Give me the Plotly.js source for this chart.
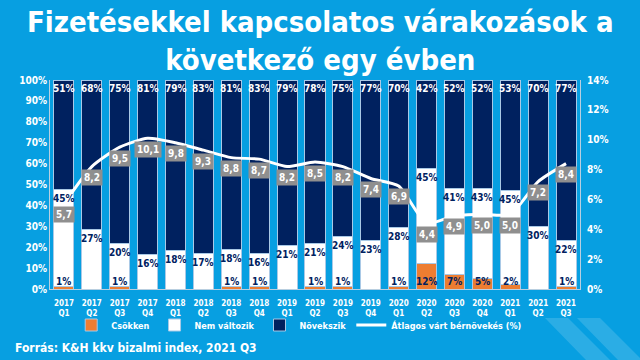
<!DOCTYPE html>
<html>
<head>
<meta charset="utf-8">
<script src="https://cdn.plot.ly/plotly-3.0.1.min.js"></script>
<style>
html,body{margin:0;padding:0;background:#079fe1;}
#chart{width:640px;height:360px;}
</style>
</head>
<body>
<div id="chart"></div>
<script>
const quarters = ["2017 Q1","2017 Q2","2017 Q3","2017 Q4","2018 Q1","2018 Q2","2018 Q3","2018 Q4","2019 Q1","2019 Q2","2019 Q3","2019 Q4","2020 Q1","2020 Q2","2020 Q3","2020 Q4","2021 Q1","2021 Q2","2021 Q3"];
const tickLabels = ["2017<br>Q1","2017<br>Q2","2017<br>Q3","2017<br>Q4","2018<br>Q1","2018<br>Q2","2018<br>Q3","2018<br>Q4","2019<br>Q1","2019<br>Q2","2019<br>Q3","2019<br>Q4","2020<br>Q1","2020<br>Q2","2020<br>Q3","2020<br>Q4","2021<br>Q1","2021<br>Q2","2021<br>Q3"];
const csokken = [1,0,1,0,0,0,1,1,0,1,1,0,1,12,7,5,2,0,1];
const nemValtozik = [45,27,20,16,18,17,18,16,21,21,24,23,28,45,41,43,45,30,22];
const novekszik = [51,68,75,81,79,83,81,83,79,78,75,77,70,42,52,52,53,70,77];
const berNovekedes = [5.7,8.2,9.5,10.1,9.8,9.3,8.8,8.7,8.2,8.5,8.2,7.4,6.9,4.4,4.9,5.0,5.0,7.2,8.4];

const NAVY = "#00215f", ORANGE = "#ed7d31", BG = "#079fe1";
const FONT = "DejaVu Sans Condensed";
const barLine = {color: "#a9c9e6", width: 1};

const traces = [
  {type:"bar", name:"Csökken", x:quarters, y:csokken, marker:{color:ORANGE, line:barLine}, hoverinfo:"none"},
  {type:"bar", name:"Nem változik", x:quarters, y:nemValtozik, marker:{color:"#ffffff", line:barLine}, hoverinfo:"none"},
  {type:"bar", name:"Növekszik", x:quarters, y:novekszik, marker:{color:NAVY, line:barLine}, hoverinfo:"none"},
  {type:"scatter", mode:"lines", name:"Átlagos várt bérnövekés (%)", x:quarters, y:berNovekedes, yaxis:"y2",
   line:{color:"#ffffff", width:3, shape:"spline", smoothing:0.6}, hoverinfo:"none"}
];

const L=50, R=60, T=80, B=71, W=640, H=360;
const pw=W-L-R, ph=H-T-B;
const px2x = p => (p-L)/pw;
const px2y = p => (H-B-p)/ph;

const annotations = [];
quarters.forEach((q,i)=>{
  const tot = csokken[i]+nemValtozik[i]+novekszik[i];
  const whiteTop = (csokken[i]+nemValtozik[i])/tot*100;
  annotations.push({x:q, y:100, xref:"x", yref:"y", text:novekszik[i]+"%", showarrow:false, yshift:-8,
    font:{family:FONT, size:10, color:"#ffffff", weight:"bold"}});
  annotations.push({x:q, y:whiteTop, xref:"x", yref:"y", text:nemValtozik[i]+"%", showarrow:false, yshift:-9,
    font:{family:FONT, size:10, color:NAVY, weight:"bold"}});
  if (csokken[i] > 0) {
    annotations.push({x:q, y:0, xref:"x", yref:"y", text:csokken[i]+"%", showarrow:false, yshift:8,
      font:{family:FONT, size:10, color:NAVY, weight:"bold"}});
  }
  annotations.push({x:q, y:berNovekedes[i], xref:"x", yref:"y2", text:berNovekedes[i].toFixed(1).replace(".",","),
    showarrow:false, yshift:-11, bgcolor:"#8f8f8f", borderpad:2,
    font:{family:FONT, size:10, color:"#ffffff", weight:"bold"}});
});
annotations.push({x:px2x(13), y:px2y(348), xref:"paper", yref:"paper", xanchor:"left", yanchor:"middle",
  text:"Forrás: K&H kkv bizalmi index, 2021 Q3", showarrow:false,
  font:{family:FONT, size:12, color:"#ffffff", weight:"bold"}});
annotations.push({x:0.5*(W)/pw - L/pw, y:px2y(3), xref:"paper", yref:"paper", xanchor:"center", yanchor:"top",
  text:"Fizetésekkel kapcsolatos várakozások a<br>következő egy évben", showarrow:false, align:"center",
  font:{family:"DejaVu Sans Condensed", size:29, color:"#ffffff", weight:"bold"}});

const chevrons = [
  "M 545 318 L 568 318 L 610 360 L 586 360 Z",
  "M 577 318 L 600 318 L 640 358 L 640 360 L 618 360 Z"
];
const shapes = chevrons.map(p=>({type:"path", xref:"paper", yref:"paper", layer:"below", line:{width:0},
  fillcolor:"rgba(255,255,255,0.15)",
  path:p.replace(/(\d+(?:\.\d+)?) (\d+(?:\.\d+)?)/g,(m,a,b)=>px2x(+a).toFixed(4)+" "+px2y(+b).toFixed(4))}));

const layout = {
  width:640, height:360,
  paper_bgcolor:BG, plot_bgcolor:BG,
  margin:{l:L, r:R, t:T, b:B},
  barmode:"stack", barnorm:"percent", bargap:0.28,
  xaxis:{type:"category", tickvals:quarters, ticktext:tickLabels, showgrid:false, zeroline:false,
    showline:true, linecolor:"#b9cfe0", linewidth:1, ticks:"", ticklabelstandoff:6,
    tickfont:{family:FONT, size:8, color:"#ffffff", weight:"bold"}},
  yaxis:{range:[0,100], dtick:10, ticksuffix:"%", showgrid:false, zeroline:false, showline:true, linecolor:"#b9cfe0",
    linewidth:1, ticks:"", tickfont:{family:FONT, size:10, color:"#ffffff", weight:"bold"}},
  yaxis2:{range:[0,14], dtick:2, ticksuffix:"%", overlaying:"y", side:"right", showgrid:false, zeroline:false,
    showline:true, linecolor:"#b9cfe0", linewidth:1, ticks:"", ticklabelstandoff:4,
    tickfont:{family:FONT, size:10, color:"#ffffff", weight:"bold"}},
  showlegend:true,
  legend:{orientation:"h", x:0.04, xanchor:"left", y:px2y(325), yanchor:"middle", bgcolor:"rgba(0,0,0,0)",
    font:{family:FONT, size:9, color:"#ffffff", weight:"bold"}, traceorder:"normal", itemwidth:30},
  annotations:annotations,
  shapes:shapes
};

Plotly.newPlot("chart", traces, layout, {displayModeBar:false, staticPlot:true});
</script>
</body>
</html>
